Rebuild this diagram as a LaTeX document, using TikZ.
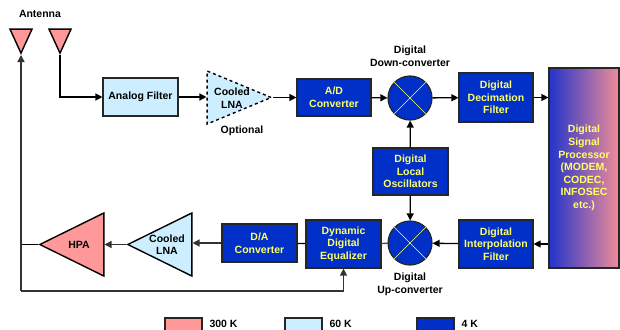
\documentclass[tikz,border=0pt]{standalone}
\usepackage{fontspec}
\setmainfont{Liberation Sans}
\usetikzlibrary{shapes.geometric,arrows.meta}

\definecolor{warm}{HTML}{FF9999}
\definecolor{cool}{HTML}{CCEEFF}
\definecolor{cold}{HTML}{0030C8}
\definecolor{yell}{HTML}{FFFF66}
\definecolor{dspblue}{HTML}{2233CC}
\definecolor{dsppink}{HTML}{F08C98}

\tikzstyle{txt}=[font=\bfseries\fontsize{10.5}{12.6}\selectfont, align=center]
\tikzstyle{block}=[txt, rectangle, draw=black!85, line width=1.2pt, inner sep=1pt]
\tikzstyle{coldblock}=[block, fill=cold, text=yell]
\tikzstyle{coolblock}=[block, fill=cool]
\tikzstyle{amp}=[isosceles triangle, isosceles triangle stretches, draw, line width=1.4pt, inner sep=0pt, anchor=apex]
\tikzstyle{mixer}=[circle, draw=black!85, fill=cold, line width=1.2pt, minimum size=44pt, inner sep=0pt]
\tikzstyle{pointto}=[-{Triangle[length=7pt,width=7pt]}, line width=1.3pt]
\tikzstyle{wire}=[line width=1.3pt]
\tikzstyle{legendbox}=[rectangle, draw=black!85, line width=1.2pt, minimum width=37pt, minimum height=14pt]

\begin{document}
\begin{tikzpicture}[x=1pt, y=-1pt]
\useasboundingbox (0,0) rectangle (620,329);
% receive chain
\node[amp, fill=warm, shape border rotate=270, minimum width=22pt, minimum height=24pt] (ant1) at (21,55) {};
\node[amp, fill=warm, shape border rotate=270, minimum width=22pt, minimum height=24pt] (ant2) at (60,55) {};
\node[txt] (antlabel) at (40,14) {Antenna};
\node[coolblock, minimum width=75pt, minimum height=38pt] (filt) at (140.5,97) {Analog Filter};
\node[amp, fill=cool, dashed, minimum width=53pt, minimum height=64pt] (lnaopt) at (273,97.5) {};
\node[txt] (lnaopttext) at (232,98) {Cooled\\LNA};
\node[txt] (optional) at (242,131) {Optional};
\node[coldblock, minimum width=74pt, minimum height=37pt] (adc) at (334,97.5) {A/D\\Converter};
\node[mixer] (down) at (410,98) {};
\node[txt] (downlabel) at (410,56) {Digital\\Down-converter};
\node[coldblock, minimum width=74pt, minimum height=49pt] (decim) at (496,97.5) {Digital\\Decimation\\Filter};
\node[block, text=yell, left color=dspblue, right color=dsppink, minimum width=70pt, minimum height=200pt] (dsp) at (584,168) {Digital\\Signal\\Processor\\(MODEM,\\CODEC,\\INFOSEC\\etc.)};
\node[coldblock, minimum width=75pt, minimum height=47pt] (lo) at (410.5,171.5) {Digital\\Local\\Oscillators};
% transmit chain
\node[mixer] (up) at (410,243) {};
\node[txt] (uplabel) at (410,284) {Digital\\Up-converter};
\node[coldblock, minimum width=74pt, minimum height=48pt] (interp) at (496,244) {Digital\\Interpolation\\Filter};
\node[coldblock, minimum width=75pt, minimum height=48pt] (equal) at (343.5,244) {Dynamic\\Digital\\Equalizer};
\node[coldblock, minimum width=75pt, minimum height=38pt] (dac) at (259.5,243) {D/A\\Converter};
\node[amp, fill=cool, shape border rotate=180, minimum width=63pt, minimum height=64pt] (lnarx) at (126,244.5) {};
\node[txt] (lnarxtext) at (167,244.5) {Cooled\\LNA};
\node[amp, fill=warm, shape border rotate=180, minimum width=63pt, minimum height=64pt] (hpa) at (38,244.5) {};
\node[txt] (hpatext) at (79,244.5) {HPA};
\coordinate (corner) at (21,291);
% mixer crosses
\foreach \m in {down, up} {
  \draw[yell, thin] (\m.135) -- (\m.-45);
  \draw[yell, thin] (\m.45) -- (\m.-135);
}
% connections
\draw[pointto] (ant2.apex) |- (filt.west);
\draw[pointto] (filt) -- (filt -| lnaopt.west);
\draw[pointto] (lnaopt.apex) -- (adc);
\draw[pointto] (adc) -- (down);
\draw[pointto] (down) -- (decim);
\draw[pointto] (decim) -- (decim -| dsp.west);
\draw[pointto] (lo) -- (down);
\draw[pointto] (lo) -- (up);
\draw[pointto] (interp -| dsp.west) -- (interp);
\draw[pointto] (interp) -- (up);
\draw[wire, black!70] (up) -- (equal);
\draw[wire] (equal) -- (dac);
\draw[pointto, black!80] (dac) -- (dac -| lnarx.east);
\draw[pointto, black!80] (lnarx.apex) -- (lnarx.apex -| hpa.east);
\draw[wire] (hpa.apex) -- (hpa.apex -| corner);
\draw[pointto, black!80] (corner) -- (ant1.apex);
\draw[pointto, black!80] (corner) -| (equal.south);
% legend
\node[legendbox, fill=warm] (k300) at (183.5,325) {};
\node[txt, anchor=west] (k300label) at (206,324) {300 K};
\node[legendbox, fill=cool] (k60) at (303.5,325) {};
\node[txt, anchor=west] (k60label) at (326,324) {60 K};
\node[legendbox, fill=cold] (k4) at (435.5,325) {};
\node[txt, anchor=west] (k4label) at (458,324) {4 K};
\end{tikzpicture}
\end{document}
